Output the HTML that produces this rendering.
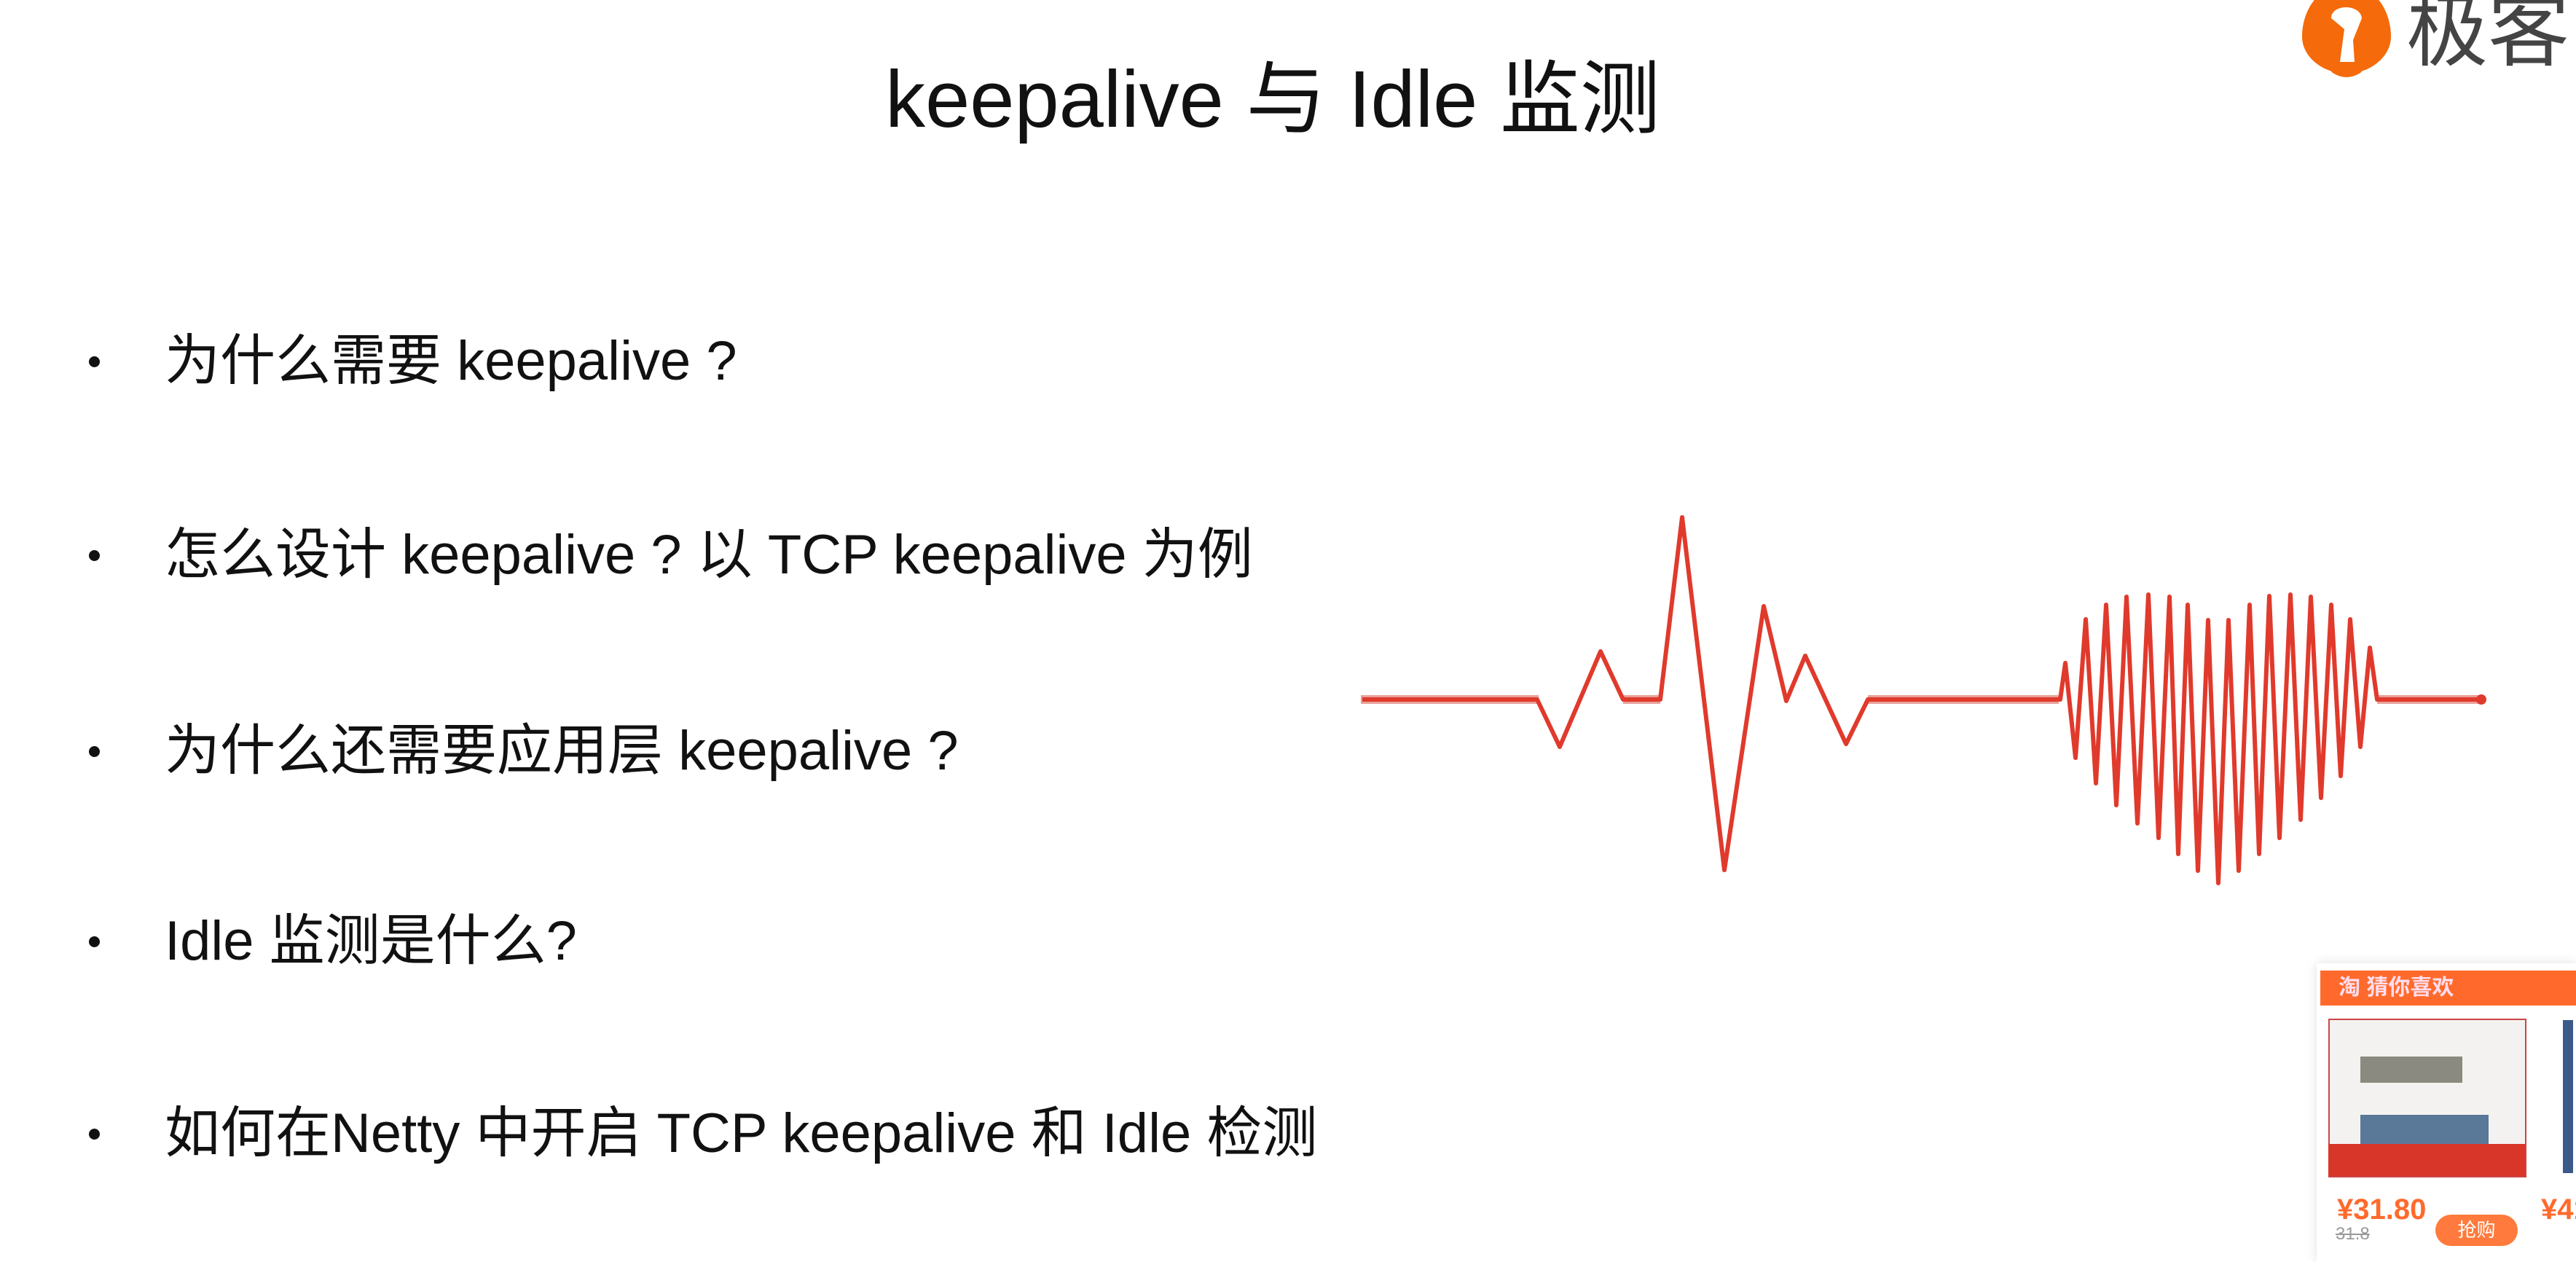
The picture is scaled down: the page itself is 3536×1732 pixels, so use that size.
<!DOCTYPE html>
<html><head><meta charset="utf-8"><style>
html,body{margin:0;padding:0;background:#fff;}
body{width:3536px;height:1732px;position:relative;overflow:hidden;font-family:"Liberation Sans","Noto Sans CJK SC",sans-serif;color:#111;}
.t{position:absolute;white-space:nowrap;}
.b{position:absolute;left:122px;width:15px;height:15px;border-radius:50%;background:#111;}
.li{position:absolute;left:226px;height:100px;line-height:100px;font-size:76px;white-space:nowrap;}
</style></head><body>
<div class="t" style="left:0;width:3494px;top:72px;text-align:center;font-size:110px;line-height:130px;">keepalive 与 Idle 监测</div>

<div class="b" style="top:489px"></div><div class="li" style="top:446px">为什么需要 keepalive ?</div>
<div class="b" style="top:755px"></div><div class="li" style="top:712px">怎么设计 keepalive ? 以 TCP keepalive 为例</div>
<div class="b" style="top:1024px"></div><div class="li" style="top:981px">为什么还需要应用层 keepalive ?</div>
<div class="b" style="top:1285px"></div><div class="li" style="top:1242px">Idle 监测是什么?</div>
<div class="b" style="top:1549px"></div><div class="li" style="top:1506px">如何在Netty 中开启 TCP keepalive 和 Idle 检测</div>

<svg style="position:absolute;left:0;top:0" width="3536" height="1732">
<line x1="1868" y1="960" x2="2112" y2="960" stroke="#e8a09a" stroke-width="12"/>
<line x1="2228" y1="960" x2="2279" y2="960" stroke="#e8a09a" stroke-width="12"/>
<line x1="2564" y1="960" x2="2826" y2="960" stroke="#e8a09a" stroke-width="12"/>
<line x1="3263" y1="960" x2="3406" y2="960" stroke="#e8a09a" stroke-width="12"/>
<polyline fill="none" stroke="#e03a2c" stroke-width="6" stroke-linejoin="round"
points="1870,960 2110,960 2141,1025 2197,894 2228,960 2279,960 2309,710 2367,1194 2421,832 2452,962 2478,900 2534,1021 2564,960 2828,960 2835,910 2849,1040 2863,850 2877,1075 2891,830 2905,1105 2919,819 2934,1130 2949,816 2963,1150 2978,819 2990,1172 3003,830 3017,1195 3031,851 3045,1212 3059,851 3073,1195 3088,830 3101,1172 3115,818 3129,1150 3144,816 3158,1125 3172,819 3186,1095 3200,830 3213,1065 3226,850 3240,1025 3253,889 3263,960 3406,960"/>
<circle cx="3406" cy="960" r="7" fill="#e03a2c"/>
<path d="M3221,-20 C3265,-20 3282,20 3282,50 C3282,78 3255,95 3240,98 L3221,105 L3202,98 C3187,95 3160,78 3160,50 C3160,20 3177,-20 3221,-20 Z" fill="#f56a0a"/>
<path d="M3200,25 C3200,5 3240,5 3242,25 L3230,55 L3232,85 L3212,85 L3218,40 Z" fill="#fff"/>
<path d="M3190,88 Q3221,115 3252,88 L3240,100 Q3221,112 3202,100 Z" fill="#f56a0a"/>
</svg>
<div class="t" style="left:3303px;top:-22px;font-size:112px;line-height:130px;color:#444;">极客时</div>

<div style="position:absolute;left:3180px;top:1322px;width:356px;height:410px;background:#fff;box-shadow:0 0 14px rgba(0,0,0,0.12);"></div>
<div style="position:absolute;left:3185px;top:1332px;width:351px;height:48px;background:#ff6a2c;"></div>
<div class="t" style="left:3210px;top:1338px;font-size:30px;line-height:36px;color:#fde;font-weight:bold;">淘 猜你喜欢</div>
<div style="position:absolute;left:3196px;top:1398px;width:268px;height:214px;background:#f4f2f0;border:2px solid #c44;"></div>
<div style="position:absolute;left:3240px;top:1450px;width:140px;height:36px;background:#8a8a80;"></div>
<div style="position:absolute;left:3240px;top:1530px;width:176px;height:45px;background:#5a7898;"></div>
<div style="position:absolute;left:3196px;top:1570px;width:270px;height:44px;background:#d9362a;"></div>
<div style="position:absolute;left:3518px;top:1400px;width:14px;height:210px;background:#3a5a8a;"></div>
<div class="t" style="left:3208px;top:1638px;font-size:40px;line-height:44px;color:#ff6a2c;font-weight:bold;">¥31.80</div>
<div class="t" style="left:3206px;top:1680px;font-size:24px;line-height:28px;color:#999;text-decoration:line-through;">31.8</div>
<div style="position:absolute;left:3343px;top:1667px;width:113px;height:43px;border-radius:22px;background:#ff7a3c;color:#fff;font-size:26px;line-height:43px;text-align:center;">抢购</div>
<div class="t" style="left:3488px;top:1638px;font-size:40px;line-height:44px;color:#ff6a2c;font-weight:bold;">¥41</div>
</body></html>
